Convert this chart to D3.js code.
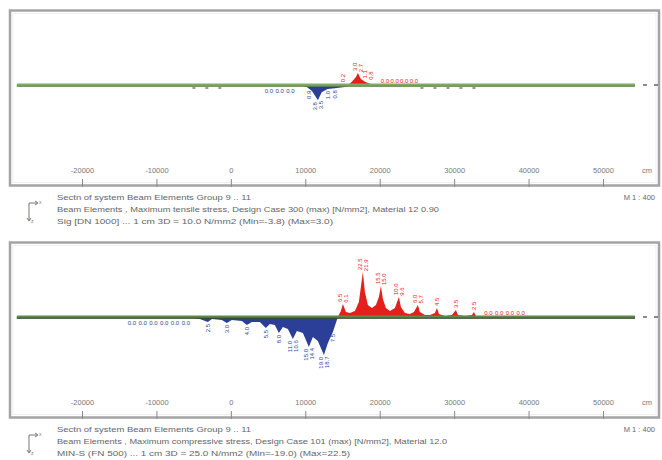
<!DOCTYPE html>
<html><head><meta charset="utf-8">
<script src="https://cdn.jsdelivr.net/npm/d3@7/dist/d3.min.js"></script>
<style>html,body{margin:0;padding:0;background:#fff;}svg{display:block;font-family:"Liberation Sans",Arial,sans-serif;}</style>
</head><body>
<script>
// ---------- data ----------
const tickValues = [-20000, -10000, 0, 10000, 20000, 30000, 40000, 50000];
const tickLabels = ["-20000", "-10000", "0", "10000", "20000", "30000", "40000", "50000"];
const unitLabel = "cm";
const beamExtent = [-28760, 54300];

// top panel: maximum tensile stress [N/mm2]
const topRedX = [15730, 16260, 16800, 17070, 17470, 18010, 18680, 19350];
const topRedV = [0, 0.8, 2.0, 3.0, 1.5, 0.8, 0.3, 0];
const topBlueX = [9300, 10200, 10900, 11700, 12200, 13000, 14000, 15300, 16400];
const topBlueV = [0, -0.5, -1.5, -3.8, -1.8, -1.0, -0.8, -0.5, 0];
const topRedLabelX = [17070, 17070, 18400, 18400, 15000];
const topRedLabelV = [3.0, 2.7, 1.1, 0.8, 0.2];
const topRedZeroX = [20700, 22000, 23300, 24600];
const topBlueLabelX = [11700, 11700, 13040, 13980, 10500];
const topBlueLabelV = [-3.8, -3.5, -1.0, -0.8, -0.9];
const topBlueZeroX = [5100, 6550, 8000];
const topNodeMarks = [-4970, -3230, -1480, 25670, 27420, 29170, 30910, 32660];

// bottom panel: maximum compressive stress [N/mm2]
const botRedX = [14380, 14780, 15050, 15460, 15990, 16670, 17200, 17470, 17740, 18010, 18410, 18950, 19490, 19890, 20160, 20430, 20830, 21370, 22040, 22580, 22850, 23390, 24060, 24600, 25130, 25400, 26070, 26750, 27420, 27690, 27960, 28760, 29700, 30240, 30510, 31450, 32390, 32660, 32930, 33470];
const botRedV = [0, 3.0, 6.5, 2.5, 2.0, 3.0, 7.5, 15.0, 22.5, 12.5, 6.0, 4.5, 6.0, 10.0, 15.5, 9.0, 4.5, 3.0, 4.5, 10.0, 5.0, 2.0, 1.5, 2.5, 6.0, 2.5, 1.0, 1.0, 2.0, 4.5, 1.5, 0.5, 1.0, 3.5, 1.0, 0.5, 1.0, 2.5, 0.5, 0];
const botBlueX = [-5510, -4170, -3090, -2550, -1210, -540, 130, 1480, 2150, 2820, 3900, 4700, 5240, 5910, 6450, 6990, 7660, 8330, 8870, 9680, 10480, 11020, 11690, 12500, 13040, 13710, 14110, 14380];
const botBlueV = [0, -1.0, -2.5, -1.0, -1.5, -3.0, -1.5, -2.0, -4.0, -2.5, -2.5, -5.5, -3.5, -4.0, -8.0, -5.0, -6.0, -11.0, -7.0, -8.0, -15.0, -10.0, -12.0, -19.0, -13.0, -7.5, -3.0, 0];
const botRedLabelX = [15050, 15050, 17740, 17740, 20160, 20160, 22580, 22580, 25130, 25130, 27690, 30240, 32660];
const botRedLabelV = [6.5, 6.1, 22.5, 21.9, 15.5, 15.0, 10.0, 9.6, 6.0, 5.7, 4.5, 3.5, 2.5];
const botRedZeroX = [34600, 36050, 37500, 38950];
const botBlueLabelX = [-3090, -540, 2150, 4700, 6450, 8330, 8330, 10480, 10480, 12500, 12500, 13710];
const botBlueLabelV = [-2.5, -3.0, -4.0, -5.5, -8.0, -11.0, -10.6, -15.0, -14.4, -19.0, -18.7, -7.5];
const botBlueZeroX = [-13300, -11850, -10400, -8950, -7500, -6050];

const captionsTop = [
  "Sectn of system Beam Elements Group 9 .. 11",
  "Beam Elements , Maximum tensile stress, Design Case 300 (max) [N/mm2], Material 12 0.90",
  "Sig [DN 1000] ...   1 cm 3D = 10.0 N/mm2 (Min=-3.8) (Max=3.0)"
];
const captionsBot = [
  "Sectn of system Beam Elements Group 9 .. 11",
  "Beam Elements , Maximum compressive stress, Design Case 101 (max) [N/mm2], Material 12.0",
  "MIN-S (FN 500) ...   1 cm 3D = 25.0 N/mm2 (Min=-19.0) (Max=22.5)"
];
const scaleText = "M 1 : 400";

// ---------- drawing ----------
const W = 662, H = 460;
const svg = d3.select("body").append("svg").attr("width", W).attr("height", H);
const x = d3.scaleLinear().domain([-20000, 50000]).range([82, 603]);

const RED = "#e3201b", BLUE = "#2b3f98";

function panel(cfg) {
  const g = svg.append("g").attr("transform", `translate(0,${cfg.top})`);
  // frame
  g.append("rect").attr("x", 10).attr("y", 0.5).attr("width", 649).attr("height", 175)
    .attr("fill", "#fff").attr("stroke", "#a4a4a4").attr("stroke-width", 2.5);
  g.append("rect").attr("x", 13).attr("y", 3.5).attr("width", 643).attr("height", 169)
    .attr("fill", "none").attr("stroke", "#f0f0f0").attr("stroke-width", 1);

  const y = d3.scaleLinear().domain(cfg.domain).range([cfg.base + cfg.half, cfg.base - cfg.half]);

  // filled stress diagrams
  const area = d3.area().x(d => x(d[0])).y0(y(0)).y1(d => y(d[1]));
  g.append("path").datum(d3.zip(cfg.blueX, cfg.blueV)).attr("d", area).attr("fill", BLUE);
  g.append("path").datum(d3.zip(cfg.redX, cfg.redV)).attr("d", area).attr("fill", RED);

  // beam axis
  g.append("line").attr("x1", x(beamExtent[0])).attr("x2", x(beamExtent[1]))
    .attr("y1", y(0)).attr("y2", y(0)).attr("stroke", cfg.beamColor).attr("stroke-width", 3);
  g.append("line").attr("x1", x(beamExtent[0])).attr("x2", x(beamExtent[1]))
    .attr("y1", y(0) + 1.2).attr("y2", y(0) + 1.2).attr("stroke", cfg.beamDark).attr("stroke-width", 1);
  // end marks
  [x(beamExtent[1]) + 8, x(beamExtent[1]) + 19].forEach(px =>
    g.append("line").attr("x1", px).attr("x2", px + 4).attr("y1", y(0)).attr("y2", y(0))
      .attr("stroke", "#888").attr("stroke-width", 2));
  // node marks
  g.selectAll(".nm").data(cfg.nodeMarks).enter().append("line")
    .attr("x1", d => x(d) - 1.5).attr("x2", d => x(d) + 1.5)
    .attr("y1", y(0) + 3).attr("y2", y(0) + 3).attr("stroke", "#555").attr("stroke-width", 1.2);

  // value labels: rotated, side by side when at the same node
  function labels(xs, vs, color, up) {
    const groups = d3.group(d3.range(xs.length), i => xs[i]);
    groups.forEach((idx, xv) => {
      idx.forEach((i, n) => {
        const off = (n - (idx.length - 1) / 2) * 6;
        const px = x(xv) + off;
        const v = vs[i];
        const py = up ? y(v) - 2 : y(v) + 2;
        g.append("text").attr("transform", `translate(${px + 2},${py}) rotate(-90)`)
          .attr("text-anchor", up ? "start" : "end")
          .attr("font-size", 6).attr("fill", color).text(Math.abs(v).toFixed(1));
      });
    });
  }
  labels(cfg.redLX, cfg.redLV, RED, true);
  labels(cfg.blueLX, cfg.blueLV, BLUE, false);
  cfg.redZ.forEach(xv => g.append("text").attr("x", x(xv)).attr("y", y(0) - 2.5)
    .attr("text-anchor", "middle").attr("font-size", 6).attr("fill", RED).text("0.0"));
  cfg.blueZ.forEach(xv => g.append("text").attr("x", x(xv)).attr("y", y(0) + 8)
    .attr("text-anchor", "middle").attr("font-size", 6).attr("fill", BLUE).text("0.0"));

  // x axis
  const ax = d3.axisBottom(x).tickValues(tickValues).tickSize(8)
    .tickFormat((d, i) => tickLabels[i]);
  const axg = g.append("g").attr("transform", "translate(0,169)").call(ax);
  axg.select(".domain").remove();
  axg.selectAll(".tick line").attr("stroke", "#888").attr("stroke-width", 1);
  axg.selectAll(".tick text").attr("y", -6).attr("dy", 0).attr("fill", "#777")
    .attr("font-size", 7.5).attr("font-family", "Liberation Sans, Arial, sans-serif");
  g.append("text").attr("x", 647).attr("y", 163).attr("text-anchor", "middle")
    .attr("font-size", 7.5).attr("fill", "#777").text(unitLabel);

  // captions
  const widths = cfg.capWidths;
  cfg.captions.forEach((t, i) => {
    g.append("text").attr("x", 57).attr("y", 190 + i * 12).attr("font-size", 7.5)
      .attr("fill", "#666").attr("textLength", widths[i]).attr("lengthAdjust", "spacingAndGlyphs").text(t);
  });
  g.append("text").attr("x", 655).attr("y", 190).attr("text-anchor", "end")
    .attr("font-size", 7.5).attr("fill", "#666").text(scaleText);

  // small coordinate icon
  const ic = g.append("g").attr("stroke", "#777").attr("stroke-width", 1).attr("fill", "none");
  ic.append("line").attr("x1", 29).attr("x2", 29).attr("y1", 193).attr("y2", 210);
  ic.append("line").attr("x1", 29).attr("x2", 37).attr("y1", 193).attr("y2", 193);
  ic.append("path").attr("d", "M35,191 L38,193 L35,195");
  ic.append("path").attr("d", "M27,208 L29,211 L31,208");
  g.append("text").attr("x", 39).attr("y", 194).attr("font-size", 5).attr("fill", "#777").text("x");
  g.append("text").attr("x", 31).attr("y", 213).attr("font-size", 5).attr("fill", "#777").text("z");
}

panel({
  top: 10, base: 75, half: 20, domain: [-5, 5],
  redX: topRedX, redV: topRedV, blueX: topBlueX, blueV: topBlueV,
  redLX: topRedLabelX, redLV: topRedLabelV, blueLX: topBlueLabelX, blueLV: topBlueLabelV,
  redZ: topRedZeroX, blueZ: topBlueZeroX, nodeMarks: topNodeMarks,
  beamColor: "#7fab66", beamDark: "#5d8048",
  captions: captionsTop, capWidths: [194, 382, 276]
});
panel({
  top: 242, base: 75, half: 60, domain: [-30, 30],
  redX: botRedX, redV: botRedV, blueX: botBlueX, blueV: botBlueV,
  redLX: botRedLabelX, redLV: botRedLabelV, blueLX: botBlueLabelX, blueLV: botBlueLabelV,
  redZ: botRedZeroX, blueZ: botBlueZeroX, nodeMarks: [],
  beamColor: "#5f8a4c", beamDark: "#2f3f2a",
  captions: captionsBot, capWidths: [194, 390, 293]
});
</script>
</body></html>
